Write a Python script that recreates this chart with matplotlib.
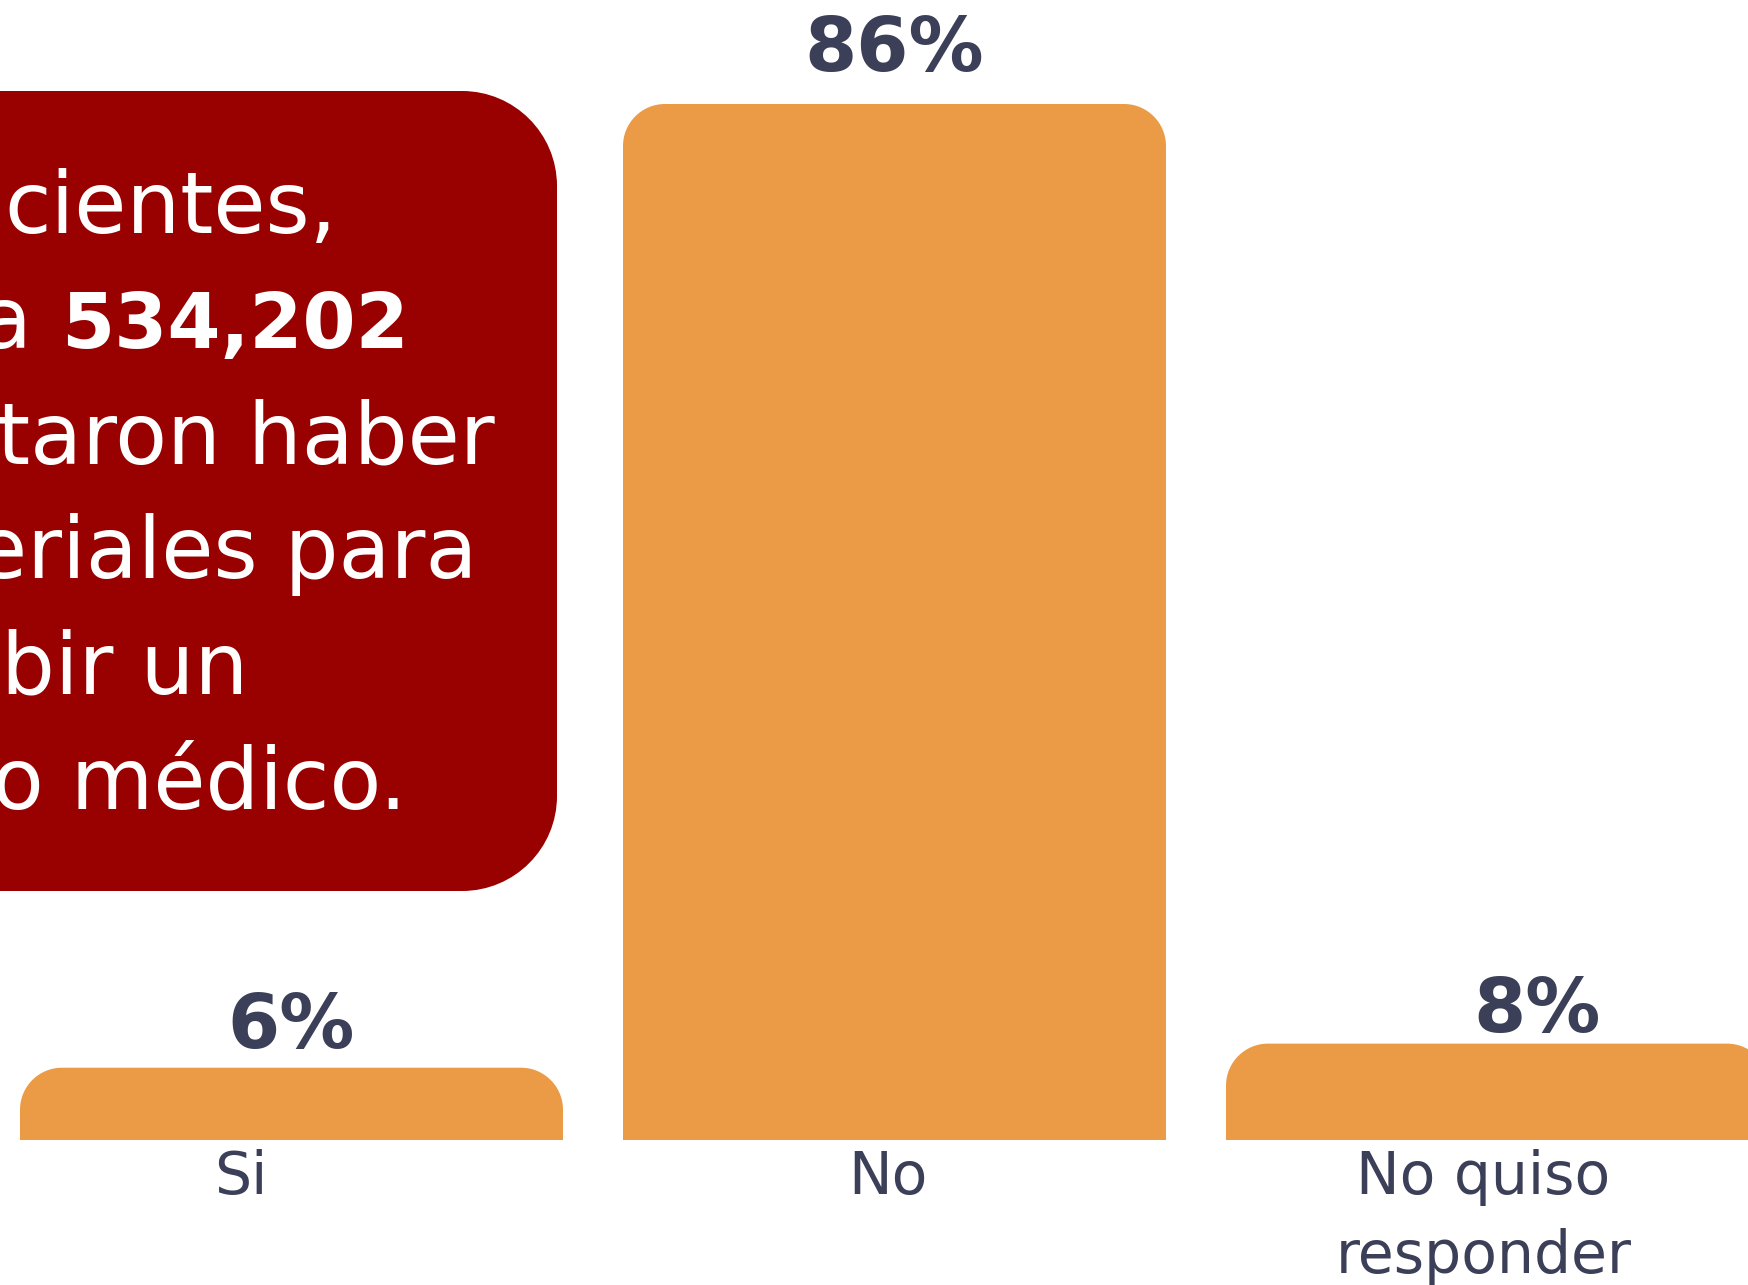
import matplotlib
matplotlib.use("Agg")
import matplotlib.pyplot as plt
from matplotlib.path import Path
from matplotlib.patches import PathPatch
from matplotlib.transforms import Affine2D

# data
categories = ["Si", "No", "No quiso\nresponder"]
values = [6, 86, 8]
value_labels = ["6%", "86%", "8%"]

box_lines = ["cientes,", "a", "taron haber", "eriales para", "bir un", "o médico."]
box_bold = "534,202"

# layout (pixels)
W, H = 1748, 1285
BASE_PX = 1140
TOP_PX = 104            # pixel of the tallest bar top
bar_left = [20, 623, 1226]
BAR_W = 543
label_dx = [-51, -7, -14]
value_dx = [0, 0, 40]
value_dy = [20, 33, 12]
R = 42

ORANGE = "#EB9B45"
RED = "#990000"
NAVY = "#3B3F58"

fig = plt.figure(figsize=(W / 100, H / 100), dpi=100)
ax = fig.add_axes([0, 0, 1, 1])
ppu = (BASE_PX - TOP_PX) / max(values)   # pixels per percent
ax.set_xlim(0, W)
ax.set_ylim((BASE_PX - H) / ppu, BASE_PX / ppu)
ax.axis("off")

# pixel transform, origin top-left
pix = Affine2D().scale(1 / W, -1 / H).translate(0, 1) + fig.transFigure

K = 0.5523


def top_rounded(x0, y0, x1, y1, rx, ry):
    verts = [(x0, y0), (x0, y1 - ry),
             (x0, y1 - ry + K * ry), (x0 + rx - K * rx, y1), (x0 + rx, y1),
             (x1 - rx, y1),
             (x1 - rx + K * rx, y1), (x1, y1 - ry + K * ry), (x1, y1 - ry),
             (x1, y0), (x0, y0)]
    codes = [Path.MOVETO, Path.LINETO,
             Path.CURVE4, Path.CURVE4, Path.CURVE4,
             Path.LINETO,
             Path.CURVE4, Path.CURVE4, Path.CURVE4,
             Path.LINETO, Path.CLOSEPOLY]
    return Path(verts, codes)


centers = [l + BAR_W / 2 for l in bar_left]
bars = ax.bar(centers, values, width=BAR_W, color=ORANGE)
for b in bars:
    x0, y0 = b.get_x(), b.get_y()
    x1, y1 = x0 + b.get_width(), y0 + b.get_height()
    b.set_visible(False)
    ax.add_patch(PathPatch(top_rounded(x0, y0, x1, y1, R, R / ppu),
                           facecolor=ORANGE, edgecolor="none"))

for c, v, lab, dx, dy in zip(centers, values, value_labels, value_dx, value_dy):
    ax.annotate(lab, xy=(c, v), xytext=(dx, dy), textcoords="offset pixels",
                ha="center", va="baseline", fontsize=54, fontweight="bold",
                color=NAVY, family="DejaVu Sans")

for c, dx, cat in zip(centers, label_dx, categories):
    for i, part in enumerate(cat.split("\n")):
        ax.text(c + dx, 1194 + i * 79, part, transform=pix, ha="center",
                va="baseline", fontsize=42, color=NAVY, family="DejaVu Sans")

# red callout box, left part cut off by the canvas
bx0, by0, bx1, by1, br = -120, 91, 557, 891, 95
verts = [(bx0, by0), (bx1 - br, by0),
         (bx1 - br + K * br, by0), (bx1, by0 + br - K * br), (bx1, by0 + br),
         (bx1, by1 - br),
         (bx1, by1 - br + K * br), (bx1 - br + K * br, by1), (bx1 - br, by1),
         (bx0, by1), (bx0, by0)]
codes = [Path.MOVETO, Path.LINETO,
         Path.CURVE4, Path.CURVE4, Path.CURVE4,
         Path.LINETO,
         Path.CURVE4, Path.CURVE4, Path.CURVE4,
         Path.LINETO, Path.CLOSEPOLY]
ax.add_patch(PathPatch(Path(verts, codes), transform=pix,
                       facecolor=RED, edgecolor="none"))

line_x = [4, -20, -3, -25, 1, -8]
baselines = [233, 348, 463, 578, 693, 808]
for txt, x, y in zip(box_lines, line_x, baselines):
    ax.text(x, y, txt, transform=pix, ha="left", va="baseline",
            fontsize=61, color="white", family="DejaVu Sans")
ax.text(61, baselines[1], box_bold, transform=pix, ha="left", va="baseline",
        fontsize=55, fontweight="bold", color="white", family="DejaVu Sans")

fig.savefig("out.png", dpi=100)
